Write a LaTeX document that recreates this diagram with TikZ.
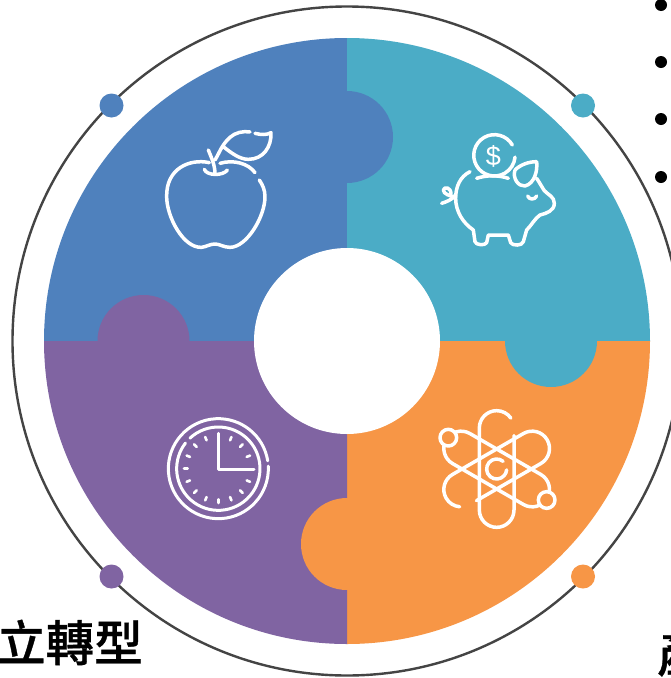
\documentclass[tikz,border=0pt]{standalone}
\usepackage{fontspec}
\setmainfont{Liberation Sans}
\newfontfamily\cjk[FakeBold=0.7]{Noto Sans CJK TC Medium}
\definecolor{pieceblue}{HTML}{4F81BD}
\definecolor{pieceteal}{HTML}{4BACC6}
\definecolor{piecepurple}{HTML}{8064A2}
\definecolor{pieceorange}{HTML}{F79646}
\definecolor{ringgray}{HTML}{444444}

\begin{document}
\begin{tikzpicture}[x=1pt,y=-1pt]
	\tikzstyle{icon}=[draw=white,line width=3.5pt,line cap=round,line join=round]
	\tikzstyle{dot}=[circle,inner sep=0pt,minimum size=24pt]
	\tikzstyle{bullet}=[circle,fill=black,inner sep=0pt,minimum size=12pt]
	\tikzstyle{title}=[inner sep=0pt,font=\cjk\fontsize{48.5}{48.5}\selectfont]

	\useasboundingbox (0,0) rectangle (671,678);
	\clip (0,0) rectangle (671,678);
	\fill[white] (0,0) rectangle (671,678);

	\coordinate (c) at (347,341);

	% ring and its dots
	\draw[ringgray,line width=2.4pt] (c) circle[radius=334.5pt];
	\foreach \px/\py/\col in {111.5/105.5/pieceblue,583/105.5/pieceteal,111.5/576.5/piecepurple,583/576.5/pieceorange}{
		\node[dot,fill=\col] (dot\col) at (\px,\py) {};
	}

	% the four pieces
	\fill[pieceblue] (c) -- (44,341) arc[start angle=180,end angle=90,radius=303pt] -- cycle;
	\fill[pieceteal] (c) -- (347,38) arc[start angle=90,end angle=0,radius=303pt] -- cycle;
	\fill[pieceorange] (c) -- (650,341) arc[start angle=0,end angle=-90,radius=303pt] -- cycle;
	\fill[piecepurple] (c) -- (347,644) arc[start angle=-90,end angle=-180,radius=303pt] -- cycle;
	% tabs
	\fill[pieceblue] (347,137) circle[radius=46pt];
	\fill[pieceteal] (551,341) circle[radius=46pt];
	\fill[pieceorange] (347,544) circle[radius=46pt];
	\fill[piecepurple] (143.5,341) circle[radius=46pt];
	\fill[white] (c) circle[radius=93pt];

	% apple
	\begin{scope}[shift={(140,110)},scale=1/3]
		\draw[icon] (208,158) .. controls (150,145) and (78,175) .. (80,260)
			.. controls (80,320) and (130,415) .. (185,412)
			.. controls (200,410) and (210,402) .. (225,402)
			.. controls (240,402) and (250,412) .. (270,412)
			.. controls (320,412) and (375,320) .. (375,260)
			.. controls (375,240) and (368,225) .. (358,210);
		\draw[icon] (345,188) .. controls (325,160) and (280,148) .. (240,160);
		\draw[icon] (205,120) .. controls (215,145) and (225,165) .. (225,192);
		\draw[icon] (193,178) .. controls (200,198) and (250,198) .. (262,180);
		\draw[icon] (225,150) .. controls (240,125) and (245,105) .. (270,82)
			.. controls (285,68) and (310,62) .. (330,66);
		\draw[icon] (345,70) .. controls (365,75) and (380,75) .. (393,68)
			.. controls (395,110) and (370,148) .. (325,148)
			.. controls (300,148) and (275,130) .. (250,110);
	\end{scope}

	% piggy bank
	\begin{scope}[shift={(425,120)},scale=1/3]
		\draw[icon] (262,75) arc[start angle=30,end angle=355,radius=62pt];
		\draw[icon] (155,175) .. controls (185,165) and (220,165) .. (250,175);
		\node[inner sep=0pt,text=white,font=\fontsize{27}{27}\selectfont] (dollar) at (205,108) {\$};
		\draw[icon] (135,155) .. controls (105,170) and (92,200) .. (92,235)
			.. controls (92,275) and (115,310) .. (145,330)
			-- (150,365) .. controls (152,375) and (180,378) .. (185,368)
			-- (190,345) -- (250,345) -- (257,368) .. controls (262,378) and (292,378) .. (295,365)
			-- (305,330) .. controls (320,315) and (330,295) .. (345,285)
			.. controls (365,280) and (388,272) .. (388,250)
			.. controls (388,230) and (370,225) .. (358,212)
			.. controls (350,200) and (345,190) .. (335,175);
		\draw[icon] (270,150) .. controls (285,135) and (310,125) .. (335,125)
			.. controls (338,150) and (330,190) .. (300,198)
			.. controls (280,200) and (262,175) .. (270,150);
		\draw[icon] (308,228) .. controls (312,240) and (330,240) .. (335,228);
		\draw[icon] (92,225) .. controls (80,240) and (65,245) .. (50,250);
		\draw[icon] (92,232) .. controls (75,228) and (55,222) .. (55,210)
			.. controls (58,198) and (78,202) .. (78,222);
	\end{scope}

	% clock
	\begin{scope}[shift={(150,400)},scale=1/3]
		\coordinate (clock) at (205,206);
		\draw[icon,line width=3pt] (clock) ++(3:150pt) arc[start angle=3,end angle=-351,radius=150pt];
		\draw[icon,line width=3pt] (clock) ++(133:125pt) arc[start angle=133,end angle=-218,radius=125pt];
		\draw[icon,line width=3pt] (205,100) -- (205,207) -- (312,207);
		\foreach \ang in {22.5,45,67.5,112.5,135,157.5,180,202.5,225,247.5,270,292.5,315,337.5}{
			\draw[icon,line width=2.6pt] (clock) ++(\ang:92pt) -- ++(\ang:11pt);
		}
	\end{scope}

	% atom
	\begin{scope}[shift={(425,395)},scale=1/3]
		\coordinate (atom) at (215,222);
		\foreach \ang/\flip/\from/\stop in {0/1/-100/35,60/1/-123/0,120/-1/-100/35}{
			\begin{scope}[shift={(atom)},rotate=\ang,xscale=\flip]
				\draw[icon] (52,\from) -- (52,123) arc[start angle=0,end angle=-180,radius=52pt]
					-- (-52,-123) arc[start angle=180,end angle=\stop,radius=52pt];
			\end{scope}
		}
		\draw[icon,fill=pieceorange] (70,128) circle[radius=25pt];
		\draw[icon,fill=pieceorange] (365,315) circle[radius=25pt];
		\draw[icon] (atom) ++(50:30pt) arc[start angle=50,end angle=355,radius=30pt];
	\end{scope}

	% text cut off by the page
	\node[title,anchor=base west] (leftword) at (-3,661) {立轉型};
	\node[title,anchor=base west] (rightword) at (657,672) {產};
	\foreach \py in {5,62,119,177}{
		\node[bullet] (bullet\py) at (661,\py) {};
	}
\end{tikzpicture}
\end{document}
